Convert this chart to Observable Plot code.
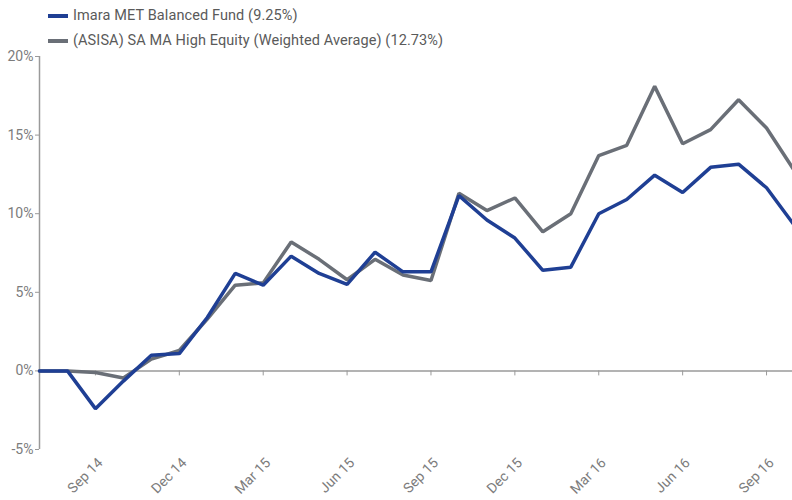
<!DOCTYPE html>
<html><head><meta charset="utf-8">
<script src="https://cdn.jsdelivr.net/npm/d3@7"></script>
<script src="https://cdn.jsdelivr.net/npm/@observablehq/plot@0.6"></script>
<style>
body{margin:0;background:#fff;font-family:Roboto,sans-serif}
#wrap{position:relative;width:792px;height:500px;overflow:hidden}
#legend{position:absolute;left:48px;top:3px;font-size:14.5px;letter-spacing:0.1px;color:#5a5a5a;z-index:2}
.item{display:flex;align-items:center;height:25px;white-space:nowrap}
.sw{width:20px;height:4px;margin-right:5px}
#chart{position:absolute;left:0;top:0;width:792px;height:500px}
</style></head><body><div id="wrap"><div id="legend"></div><div id="chart"></div></div>
<script>
const months = ["Jul 14","Aug 14","Sep 14","Oct 14","Nov 14","Dec 14","Jan 15","Feb 15","Mar 15","Apr 15","May 15","Jun 15","Jul 15","Aug 15","Sep 15","Oct 15","Nov 15","Dec 15","Jan 16","Feb 16","Mar 16","Apr 16","May 16","Jun 16","Jul 16","Aug 16","Sep 16","Oct 16"];
const imara = [0, 0, -2.4, -0.65, 1.0, 1.1, 3.4, 6.2, 5.45, 7.3, 6.2, 5.5, 7.55, 6.3, 6.3, 11.15, 9.6, 8.45, 6.4, 6.6, 10.0, 10.9, 12.45, 11.35, 12.95, 13.15, 11.65, 9.25];
const asisa = [0, 0, -0.1, -0.45, 0.75, 1.3, 3.3, 5.45, 5.6, 8.2, 7.1, 5.8, 7.1, 6.1, 5.75, 11.3, 10.2, 11.0, 8.85, 10.0, 13.7, 14.35, 18.1, 14.45, 15.35, 17.25, 15.45, 12.73];
const seriesNames = ["Imara MET Balanced Fund (9.25%)", "(ASISA) SA MA High Equity (Weighted Average) (12.73%)"];
const seriesColors = ["#1f3f94", "#6a6f77"];
const yTicks = [-5, 0, 5, 10, 15, 20];
const xTicks = ["Sep 14","Dec 14","Mar 15","Jun 15","Sep 15","Dec 15","Mar 16","Jun 16","Sep 16"];

const legend = document.getElementById("legend");
seriesNames.forEach((n, i) => {
  const it = document.createElement("div"); it.className = "item";
  const sw = document.createElement("span"); sw.className = "sw"; sw.style.background = seriesColors[i];
  const tx = document.createElement("span"); tx.textContent = n;
  it.appendChild(sw); it.appendChild(tx); legend.appendChild(it);
});

const idx = months.map((m, i) => i);
const xTickIdx = xTicks.map(t => months.indexOf(t));

const chart = Plot.plot({
  width: 792, height: 500,
  marginTop: 56, marginBottom: 51, marginLeft: 39, marginRight: 0,
  style: {fontFamily: "Roboto, sans-serif", fontSize: "14px", color: "#7c7c7c", background: "transparent", overflow: "hidden"},
  x: {type: "linear", domain: [0, months.length - 1], range: [39, 794]},
  y: {domain: [-5, 20]},
  marks: [
    Plot.ruleY([0], {stroke: "#9a9a9a", strokeWidth: 1.5}),
    Plot.ruleX(xTickIdx, {x: d => d, y1: 0, y2: 0, insetBottom: -5, stroke: "#9a9a9a"}),
    Plot.ruleX([0], {x: d => d, y1: -5, y2: 20, stroke: "#9a9a9a", strokeWidth: 1.5}),
    Plot.axisY({ticks: yTicks, tickFormat: d => d + "%", tickSize: 4, tickPadding: 2, stroke: "#9a9a9a", label: null}),
    Plot.axisX({ticks: xTickIdx, tickFormat: i => months[i], tickSize: 0, tickRotate: -45, tickPadding: 11, label: null, dx: 5}),
    Plot.line(idx, {x: i => i, y: i => asisa[i], stroke: seriesColors[1], strokeWidth: 3.5, strokeLinejoin: "miter"}),
    Plot.line(idx, {x: i => i, y: i => imara[i], stroke: seriesColors[0], strokeWidth: 3.5, strokeLinejoin: "miter"})
  ]
});
document.getElementById("chart").appendChild(chart);
</script></body></html>
